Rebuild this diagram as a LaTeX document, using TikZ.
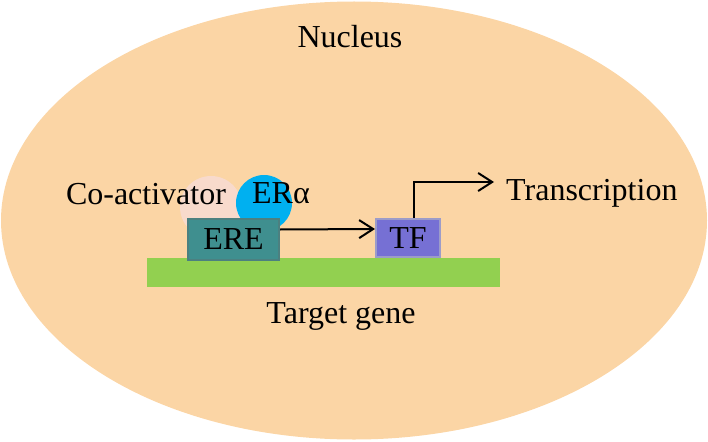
\documentclass[tikz,border=0pt]{standalone}
\usepackage{fontspec}
\setmainfont{Liberation Serif}
\usetikzlibrary{arrows.meta}
\definecolor{peach}{RGB}{251,213,165}
\definecolor{genegreen}{RGB}{146,208,80}
\definecolor{eregreen}{RGB}{63,143,143}
\definecolor{tfblue}{RGB}{118,112,212}
\definecolor{copink}{RGB}{248,218,204}
\definecolor{erblue}{RGB}{0,176,240}
\begin{document}
\begin{tikzpicture}[x=1pt,y=-1pt,font=\fontsize{32}{38}\selectfont,
		box/.style={draw,line width=2pt,inner sep=0pt},
		lbl/.style={inner sep=0pt,anchor=base},
		tip/.style={line width=2pt,-{Straight Barb[length=14pt,width=18pt,line width=2pt]}}]
		\useasboundingbox (0,0) rectangle (708,441);
		\fill[peach] (354,220.5) ellipse [x radius=353,y radius=219];

		\node[lbl] (nuc) at (350,48) {Nucleus};
		\node[fill=genegreen,minimum width=353pt,minimum height=29pt,inner sep=0pt] (gene) at (323.5,272.5) {};
		\node[lbl] (tgt) at (341,323) {Target gene};

		\fill[copink] (211,207) circle (31);
		\fill[erblue] (264,203) circle (28);
		\node[lbl] (coact) at (146,204) {Co-activator};
		\node[lbl] (era) at (281,203) {ERα};

		\node[box,draw=teal!40!gray,fill=eregreen,minimum width=91pt,minimum height=41pt] (ERE) at (233.5,239.5) {ERE};
		\node[box,draw=gray!70!blue!60,fill=tfblue,minimum width=64pt,minimum height=38pt] (TF) at (408,238) {TF};
		\coordinate (tx) at (494,182);
		\node[lbl,anchor=base west] (trans) at (506,200) {Transcription};

		\draw[tip] ([yshift=10pt]ERE.east) -- ([yshift=9pt]TF.west);
		\draw[tip] ([xshift=6pt]TF.north) |- (tx);
	\end{tikzpicture}
\end{document}
